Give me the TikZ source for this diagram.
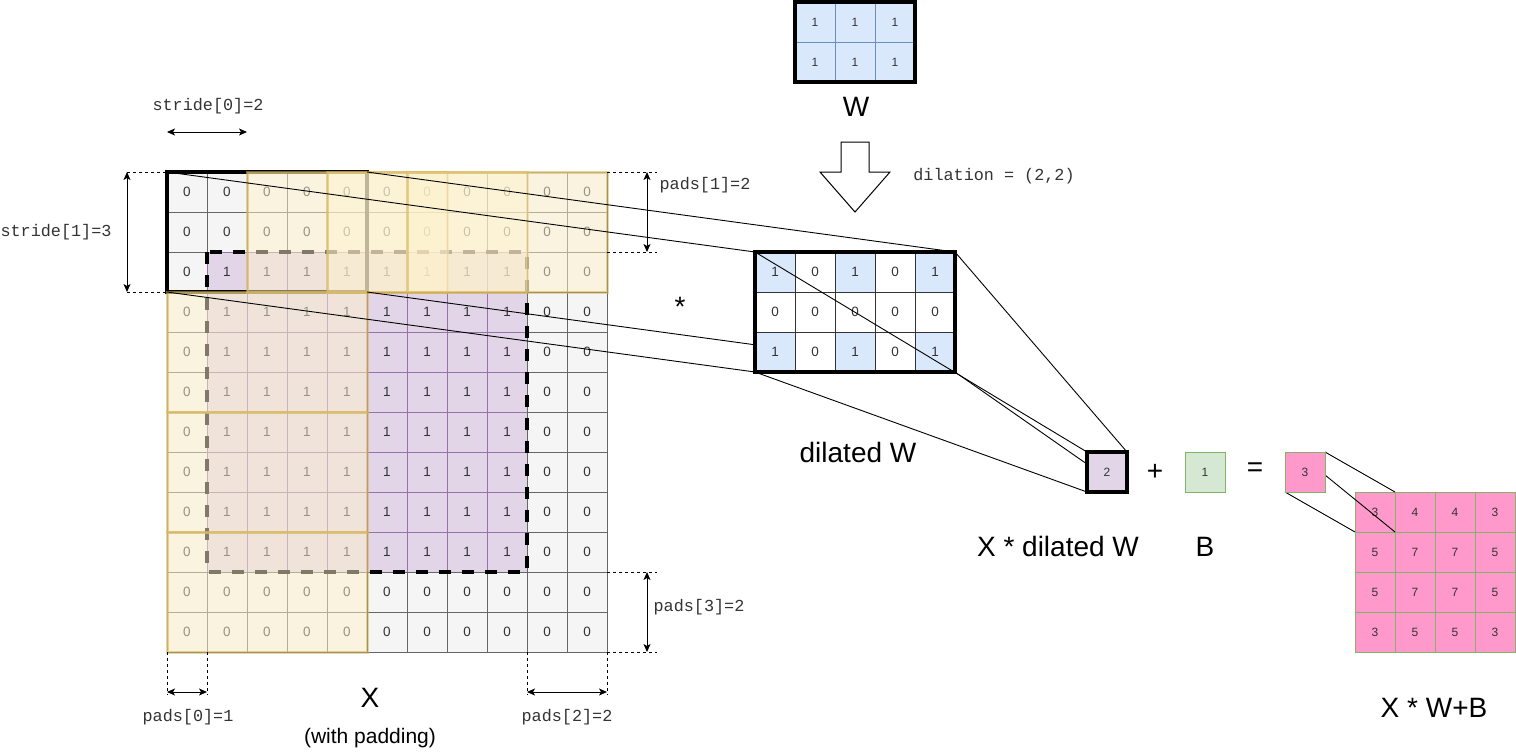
\documentclass[tikz,border=0pt]{standalone}
\usepackage{fontspec}
\setmainfont{Liberation Sans}
\newfontfamily\codefont{Liberation Mono}
\usetikzlibrary{arrows.meta}
\definecolor{gfill}{HTML}{F5F5F5}
\definecolor{gline}{HTML}{666666}
\definecolor{pfill}{HTML}{E1D5E7}
\definecolor{pline}{HTML}{9673A6}
\definecolor{yfill}{HTML}{FFF2CC}
\definecolor{yline}{HTML}{D6B656}
\definecolor{bfill}{HTML}{DAE8FC}
\definecolor{bline}{HTML}{6C8EBF}
\definecolor{grfill}{HTML}{D5E8D4}
\definecolor{grline}{HTML}{82B366}
\definecolor{pkfill}{HTML}{FF99CC}
\definecolor{txt}{HTML}{333333}
\begin{document}
\begin{tikzpicture}[x=1pt,y=-1pt,
  cell/.style={draw, line width=1pt, minimum size=40pt, inner sep=0pt, outer sep=0pt,
    text=txt, font=\fontsize{13.5}{16}\selectfont},
  smallcell/.style={cell, font=\fontsize{12}{14}\selectfont},
  ovl/.style={fill=yfill, fill opacity=0.5, draw=yline, draw opacity=0.55, line width=3pt},
  thickbox/.style={draw=black, line width=4.5pt},
  dashbox/.style={draw=black, line width=4pt, dash pattern=on 12pt off 11pt},
  proj/.style={draw=black, line width=0.9pt},
  dotline/.style={draw=black, line width=0.9pt, dash pattern=on 3pt off 3pt},
  dimarrow/.style={draw=black, line width=1pt, {Stealth[length=8pt,width=7pt,inset=2pt]}-{Stealth[length=8pt,width=7pt,inset=2pt]}},
  lbl/.style={inner sep=0pt, font=\fontsize{28}{30}\selectfont},
  code/.style={inner sep=0pt, text=txt, font=\codefont\fontsize{16.8}{18}\selectfont}
]
\useasboundingbox (0,0) rectangle (1516,753);

% ---------- padded input X ----------
\foreach \r in {0,...,11}{
  \foreach \c in {0,...,10}{
    \pgfmathtruncatemacro{\isd}{((\r>1)&&(\r<10)&&(\c>0)&&(\c<9))?1:0}
    \ifnum\isd=1
      \node[cell, draw=pline, fill=pfill] (g-\r-\c) at ({187+40*\c},{192+40*\r}) {1};
    \else
      \node[cell, draw=gline, fill=gfill] (g-\r-\c) at ({187+40*\c},{192+40*\r}) {0};
    \fi
  }
}
\draw[dashbox] (g-2-1.north west) rectangle (g-9-8.south east);
\draw[thickbox] (g-0-0.north west) rectangle (g-2-4.south east);
% sliding windows
\draw[ovl] (g-0-2.north west) rectangle (g-2-6.south east);
\draw[ovl] (g-0-4.north west) rectangle (g-2-8.south east);
\draw[ovl] (g-0-6.north west) rectangle (g-2-10.south east);
\draw[ovl] (g-3-0.north west) rectangle (g-5-4.south east);
\draw[ovl] (g-6-0.north west) rectangle (g-8-4.south east);
\draw[ovl] (g-9-0.north west) rectangle (g-11-4.south east);

% ---------- dimension annotations ----------
\coordinate (s0a) at (167,132); \coordinate (s0b) at (247,132);
\draw[dimarrow] (s0a) -- (s0b);
\node[code] (ls0) at (208,106) {stride[0]=2};

\coordinate (s1a) at (127,172); \coordinate (s1b) at (127,292);
\draw[dotline] (s1a) -- (g-0-0.north west);
\draw[dotline] (s1b) -- (g-2-0.south west);
\draw[dimarrow] (s1a) -- (s1b);
\node[code] (ls1) at (56,232) {stride[1]=3};

\coordinate (p1a) at (657,172); \coordinate (p1b) at (657,252);
\coordinate (p1c) at (647,172); \coordinate (p1d) at (647,252);
\draw[dotline] (g-0-10.north east) -- (p1a);
\draw[dotline] (g-1-10.south east) -- (p1b);
\draw[dimarrow] (p1c) -- (p1d);
\node[code] (lp1) at (705,185) {pads[1]=2};

\coordinate (p3a) at (657,572); \coordinate (p3b) at (657,652);
\coordinate (p3c) at (647,572); \coordinate (p3d) at (647,652);
\draw[dotline] (g-10-10.north east) -- (p3a);
\draw[dotline] (g-11-10.south east) -- (p3b);
\draw[dimarrow] (p3c) -- (p3d);
\node[code] (lp3) at (699,607) {pads[3]=2};

\coordinate (p0a) at (167,695); \coordinate (p0b) at (207,695);
\coordinate (p0c) at (167,692); \coordinate (p0d) at (207,692);
\draw[dotline] (g-11-0.south west) -- (p0a);
\draw[dotline] (g-11-0.south east) -- (p0b);
\draw[dimarrow] (p0c) -- (p0d);
\node[code] (lp0) at (188,717) {pads[0]=1};

\coordinate (p2a) at (527,695); \coordinate (p2b) at (607,695);
\coordinate (p2c) at (527,692); \coordinate (p2d) at (607,692);
\draw[dotline] (g-11-9.south west) -- (p2a);
\draw[dotline] (g-11-10.south east) -- (p2b);
\draw[dimarrow] (p2c) -- (p2d);
\node[code] (lp2) at (567,717) {pads[2]=2};

\node[lbl] (lX) at (370,698) {X};
\node[inner sep=0pt, font=\fontsize{21}{22}\selectfont] (lwp) at (370,738) {(with padding)};

% ---------- W ----------
\foreach \r in {0,1}{
  \foreach \c in {0,1,2}{
    \node[smallcell, draw=bline, fill=bfill] (w-\r-\c) at ({815+40*\c},{22+40*\r}) {1};
  }
}
\draw[thickbox] (w-0-0.north west) rectangle (w-1-2.south east);
\node[lbl] (lW) at (856,107) {W};

% block arrow
\draw[line width=1pt, fill=white] (841,142) -- (869,142) -- (869,172) -- (890,172)
  -- (855,212) -- (820,172) -- (841,172) -- cycle;
\node[code] (ldil) at (994,176) {dilation = (2,2)};

% ---------- projection lines X -> dilated W ----------
\coordinate (dTL) at (755,252); \coordinate (dTR) at (955,252);
\coordinate (dBL) at (755,372); \coordinate (dBR) at (955,372);
\draw[proj] (g-0-0.north west) -- (dTL);
\draw[proj] (g-0-4.north east) -- (dTR);
\draw[proj] (g-2-0.south west) -- (dBL);
\draw[proj] (g-2-4.south east) -- (dBR);

% ---------- dilated W ----------
\foreach \r in {0,1,2}{
  \foreach \c in {0,...,4}{
    \pgfmathtruncatemacro{\isb}{(\r!=1)&&(mod(\c,2)==0)?1:0}
    \ifnum\isb=1
      \node[cell, draw=txt, fill=bfill] (d-\r-\c) at ({775+40*\c},{272+40*\r}) {1};
    \else
      \node[cell, draw=txt, fill=white] (d-\r-\c) at ({775+40*\c},{272+40*\r}) {0};
    \fi
  }
}
\draw[thickbox] (d-0-0.north west) rectangle (d-2-4.south east);
\node[lbl] (ldW) at (858,452) {dilated W};
\node[lbl] (star) at (680,307) {*};

% ---------- lines dilated W -> result ----------
\coordinate (rTL) at (1087,452); \coordinate (rTR) at (1127,452);
\coordinate (rBL) at (1087,492); \coordinate (rBR) at (1127,492);
\draw[proj] (d-0-0.north west) -- (rTL);
\draw[proj] (d-0-4.north east) -- (rTR);
\draw[proj] (d-2-0.south west) -- (rBL);
\draw[proj] (d-2-4.south east) -- (rBR);

\node[smallcell, fill=pfill, draw=black, line width=4pt] (res) at (1107,472) {2};
\node[lbl] (lXdW) at (1058,546) {X * dilated W};

\node[lbl] (plus) at (1155,472) {+};
\node[smallcell, fill=grfill, draw=grline] (bias) at (1205,472) {1};
\node[lbl] (lB) at (1205,547) {B};
\node[lbl] (eq) at (1255,470) {=};

% ---------- output ----------
\def\outvals{{3,4,4,3},{5,7,7,5},{5,7,7,5},{3,5,5,3}}
\foreach \r in {0,...,3}{
  \foreach \c in {0,...,3}{
    \pgfmathtruncatemacro{\v}{{\outvals}[\r][\c]}
    \node[smallcell, fill=pkfill, draw=grline] (o-\r-\c) at ({1375+40*\c},{512+40*\r}) {\v};
  }
}
\coordinate (smid) at (1325,475);
\draw[proj] (1325,452) coordinate (sTR) -- (o-0-0.north east);
\draw[proj] (smid) -- (o-0-0.south east);
\draw[proj] (1285,492) coordinate (sBL) -- (o-0-0.south west);
\node[smallcell, fill=pkfill, draw=grline] (small) at (1305,472) {3};
\node[lbl] (lres) at (1434,708) {X * W+B};
\end{tikzpicture}
\end{document}
